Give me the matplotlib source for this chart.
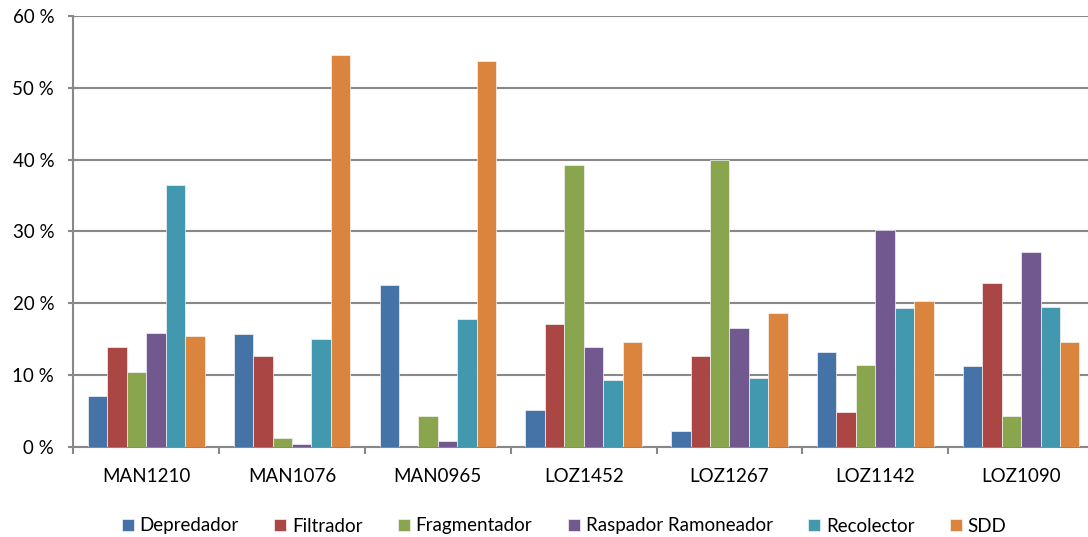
import matplotlib
matplotlib.use("Agg")
import matplotlib.pyplot as plt
import numpy as np

sites = ["MAN1210", "MAN1076", "MAN0965", "LOZ1452", "LOZ1267", "LOZ1142", "LOZ1090"]
groups = ["Depredador", "Filtrador", "Fragmentador", "Raspador Ramoneador", "Recolector", "SDD"]

depredador = [7.2, 15.7, 22.6, 5.2, 2.2, 13.3, 11.3]
filtrador = [14.0, 12.7, 0.0, 17.2, 12.7, 4.9, 22.8]
fragmentador = [10.5, 1.3, 4.4, 39.3, 39.9, 11.5, 4.3]
raspador = [15.9, 0.5, 0.9, 14.0, 16.6, 30.2, 27.1]
recolector = [36.5, 15.0, 17.9, 9.4, 9.7, 19.4, 19.5]
sdd = [15.5, 54.5, 53.7, 14.6, 18.7, 20.4, 14.6]

series = [depredador, filtrador, fragmentador, raspador, recolector, sdd]
colors = ["#4572A7", "#AA4643", "#89A54E", "#71588F", "#4198AF", "#DB843D"]

plt.rcParams["font.family"] = ["Lato", "DejaVu Sans"]
FS = 13.5

W, H = 1088, 537
fig = plt.figure(figsize=(W / 100, H / 100), dpi=100)
left, right, top, bottom = 73.3, 1094, 15.7, 447.3
ax = fig.add_axes([left / W, 1 - bottom / H, (right - left) / W, (bottom - top) / H])

n = len(series)
bw = 0.8 / n
x = np.arange(len(sites))
for i, (vals, c, name) in enumerate(zip(series, colors, groups)):
    ax.bar(x - 0.4 + bw * (i + 0.5), vals, width=bw, color=c, edgecolor="#f4f4f4",
           linewidth=0.5, label=name, zorder=3)

ax.set_xlim(-0.5, len(sites) - 0.5)
ax.set_ylim(0, 60)
ax.set_yticks(np.arange(0, 61, 10))
ax.set_yticklabels([f"{v} %" for v in range(0, 61, 10)])
ax.yaxis.grid(True, color="#888888", linewidth=1.5, zorder=0)
ax.set_axisbelow(True)

ax.set_xticks(x)
ax.set_xticklabels(sites)
ax.tick_params(axis="x", length=0, pad=15, labelsize=FS, colors="#000000")
ax.set_xticks(np.arange(-0.5, len(sites) + 0.5, 1), minor=True)
ax.tick_params(axis="x", which="minor", length=5, width=1.5, color="#888888", direction="out")
ax.tick_params(axis="y", length=3.8, width=1.5, color="#888888", labelsize=FS, pad=10)

for s in ["top", "right"]:
    ax.spines[s].set_visible(False)
for s in ["left", "bottom"]:
    ax.spines[s].set_color("#888888")
    ax.spines[s].set_linewidth(1.5)

fig.legend(loc="center", bbox_to_anchor=(564 / W, 1 - 526 / H), ncol=6, frameon=False,
           fontsize=FS, handlelength=0.64, handleheight=0.64, handletextpad=0.3,
           columnspacing=1.9, borderaxespad=0, borderpad=0)

fig.savefig("out.png", dpi=100)
